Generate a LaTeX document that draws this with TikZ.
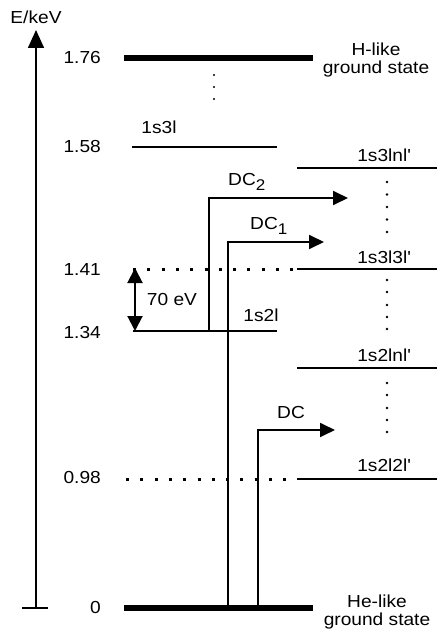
\documentclass[tikz,border=0pt]{standalone}
\usepackage{fontspec}
\setmainfont[FakeStretch=1.1]{Liberation Sans}
\usetikzlibrary{arrows.meta}
\begin{document}
\begin{tikzpicture}[x=1pt,y=-1pt,font=\fontsize{17.4}{20}\selectfont,
  lvl/.style={line width=2pt},
  gnd/.style={line width=6.5pt},
  dotl/.style={line width=3pt,dash pattern=on 3pt off 11.3pt},
  lab/.style={inner sep=0pt},
  dcarrow/.style={line width=1.8pt,-{Triangle[length=15pt,width=14pt]}},
  vdot/.style={fill=black},
]
\useasboundingbox (0,0) rectangle (437,631);
% axis
\coordinate (axb) at (36,608);
\coordinate (axt) at (36,30);
\coordinate (teel) at (22,608);
\coordinate (teer) at (48,608);
\draw[line width=1.6pt,-{Triangle[length=18pt,width=16pt]}] (axb) -- (axt);
\draw[line width=1.6pt] (teel) -- (teer);
\node[lab] (axlab) at (36,17) {E/keV};
% value labels
\node[lab,anchor=east] (v176) at (101,58) {1.76};
\node[lab,anchor=east] (v158) at (101,147) {1.58};
\node[lab,anchor=east] (v141) at (101,270) {1.41};
\node[lab,anchor=east] (v134) at (101,333) {1.34};
\node[lab,anchor=east] (v098) at (101,478) {0.98};
\node[lab,anchor=east] (v0) at (101,608) {0};
% levels
\coordinate (h1) at (124,58);  \coordinate (h2) at (313,58);
\draw[gnd] (h1) -- (h2);
\coordinate (a1) at (132,147); \coordinate (a2) at (277,147);
\draw[lvl] (a1) -- (a2);
\coordinate (b1) at (297,168); \coordinate (b2) at (437,168);
\draw[lvl] (b1) -- (b2);
\coordinate (c0) at (133,269); \coordinate (c1) at (297,269); \coordinate (c2) at (437,269);
\draw[dotl] (c0) -- (c1);
\draw[lvl] (c1) -- (c2);
\coordinate (d1) at (133,331); \coordinate (d2) at (277,331);
\draw[lvl] (d1) -- (d2);
\coordinate (e1) at (297,368); \coordinate (e2) at (437,368);
\draw[lvl] (e1) -- (e2);
\coordinate (f0) at (126,479); \coordinate (f1) at (297,479); \coordinate (f2) at (437,479);
\draw[dotl] (f0) -- (f1);
\draw[lvl] (f1) -- (f2);
\coordinate (g1) at (124,608); \coordinate (g2) at (313,608);
\draw[gnd] (g1) -- (g2);
% vertical dots
\foreach \y in {75,87,99} \fill[vdot] (214,\y) circle (1.2pt);
\foreach \y in {182,194.5,207,219.5,232} \fill[vdot] (387,\y) circle (1.3pt);
\foreach \y in {280,292,305,317,329} \fill[vdot] (387,\y) circle (1.3pt);
\foreach \y in {383,395,408,420,432} \fill[vdot] (387,\y) circle (1.3pt);
% DC arrows
\coordinate (dc2s) at (209,331); \coordinate (dc2e) at (348,198);
\draw[dcarrow] (dc2s) |- (dc2e);
\coordinate (dc1s) at (228,608); \coordinate (dc1e) at (324,242);
\draw[dcarrow] (dc1s) |- (dc1e);
\coordinate (dcs) at (258,608); \coordinate (dce) at (335,430);
\draw[dcarrow] (dcs) |- (dce);
% 70 eV
\coordinate (ev1) at (135,268); \coordinate (ev2) at (135,331);
\draw[line width=2pt,{Triangle[length=15pt,width=15pt]}-{Triangle[length=15pt,width=15pt]}] (ev1) -- (ev2);
\node[lab] (evlab) at (172,300) {70 eV};
% state labels
\node[lab,align=center] (hlike) at (376,60) {H-like\\[-2pt]ground state};
\node[lab] (l1s3l) at (159,127) {1s3l};
\node[lab] (l1s3lnl) at (384,155) {1s3lnl\textquotesingle};
\node[lab,anchor=west] (ldc2) at (228,182) {DC\raisebox{-5pt}{\fontsize{15.5}{16}\selectfont 2}};
\node[lab,anchor=west] (ldc1) at (250,226) {DC\raisebox{-5pt}{\fontsize{15.5}{16}\selectfont 1}};
\node[lab] (l1s3l3l) at (384,257) {1s3l3l\textquotesingle};
\node[lab] (l1s2l) at (261,315) {1s2l};
\node[lab] (l1s2lnl) at (384,355) {1s2lnl\textquotesingle};
\node[lab] (ldc) at (291,413) {DC};
\node[lab] (l1s2l2l) at (384,465) {1s2l2l\textquotesingle};
\node[lab,align=center] (helike) at (377,612) {He-like\\[-2pt]ground state};
\end{tikzpicture}
\end{document}
